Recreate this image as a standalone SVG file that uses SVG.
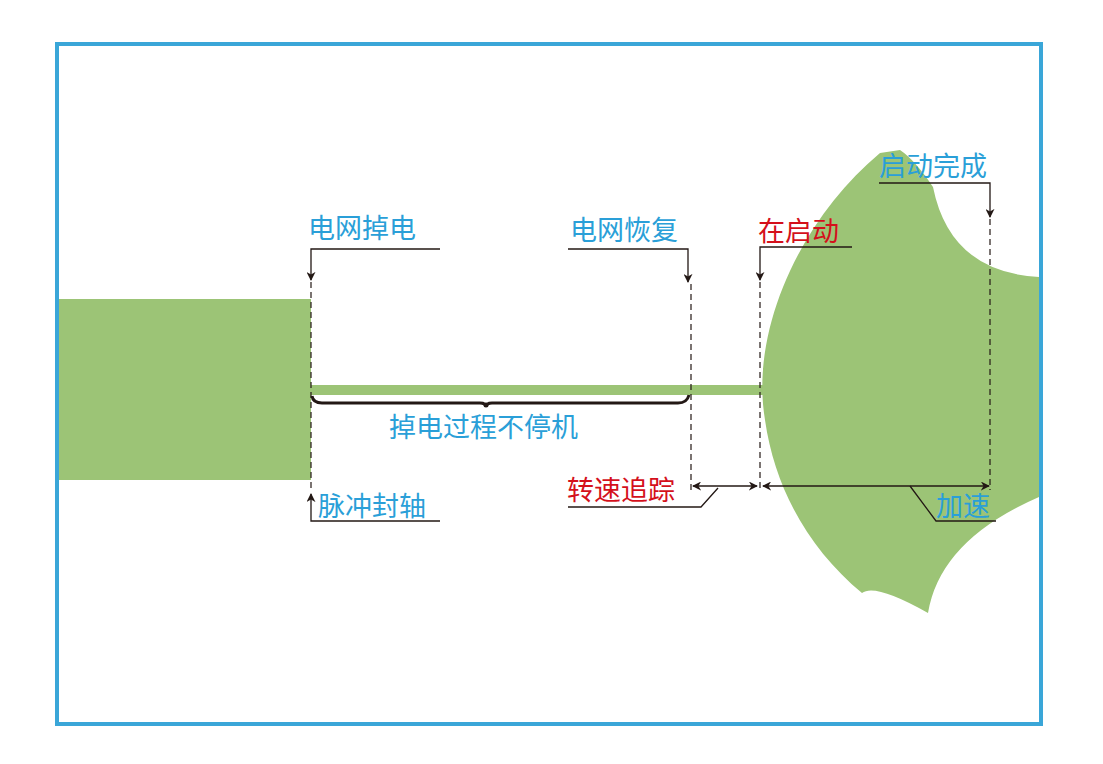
<svg xmlns="http://www.w3.org/2000/svg" width="1103" height="764" viewBox="0 0 1103 764">
<style>
text{font-family:"Noto Sans CJK SC","Noto Sans",sans-serif;font-size:27px}
.b{fill:#2a9fd8}.r{fill:#d4101b}
.l{stroke:#231815;stroke-width:1.3;fill:none}
.d{stroke:#231815;stroke-width:1.2;fill:none;stroke-dasharray:6 4}
.g{fill:#9cc476}
</style>
<defs><marker id="a" viewBox="0 0 10 10" refX="9" refY="5" markerWidth="9" markerHeight="9" orient="auto-start-reverse" markerUnits="userSpaceOnUse"><path d="M0,0L10,5L0,10L3,5z" fill="#231815"/></marker></defs>
<rect width="1103" height="764" fill="#fff"/>
<rect x="57" y="44" width="984" height="680" fill="none" stroke="#3aa6d8" stroke-width="4"/>
<g id="shapes">
<rect class="g" x="59" y="299" width="252" height="181"/>
<rect class="g" x="311" y="385" width="452" height="10"/>
<path class="g" d="M880,153 C800,220 750,330 765,420 C775,490 810,550 862,593 Q875,583 928,613 Q940,540 1039,497 L1039,277 Q950,272 933,187 Q915,160 900,150 Z"/>
</g>
<g id="connectors">
<path class="l" d="M440,249H311V280" marker-end="url(#a)"/>
<path class="d" d="M311,282V492"/>
<path class="l" d="M440,521H311V494" marker-end="url(#a)"/>
<path class="l" d="M568,249H688V282" marker-end="url(#a)"/>
<path class="d" d="M691,284V490"/>
<path class="l" d="M852,247H760V280" marker-end="url(#a)"/>
<path class="d" d="M760,282V492"/>
<path class="l" d="M879,183H990V217" marker-end="url(#a)"/>
<path class="d" d="M990,219V490"/>
<path class="l" d="M693,486H757" marker-start="url(#a)" marker-end="url(#a)"/>
<path class="l" d="M763,486H989" marker-start="url(#a)" marker-end="url(#a)"/>
<path class="l" d="M568,507H701L718,488"/>
<path class="l" d="M910,486L936,521H996"/>
<path d="M312,396Q313,403 322,403H480Q486,403 486,407Q486,403 492,403H678Q687,403 689,395" stroke="#231815" stroke-width="3" fill="none"/>
<circle cx="486" cy="405" r="2.5" fill="#231815"/>
</g>
<g id="labels">
<text class="b" x="308" y="238">电网掉电</text>
<text class="b" x="318" y="516">脉冲封轴</text>
<text class="b" x="570" y="240">电网恢复</text>
<text class="r" x="758" y="241">在启动</text>
<text class="b" x="879" y="176">启动完成</text>
<text class="r" x="567" y="500">转速追踪</text>
<text class="b" x="936" y="516">加速</text>
<text class="b" x="389" y="437">掉电过程不停机</text>
</g>
</svg>
